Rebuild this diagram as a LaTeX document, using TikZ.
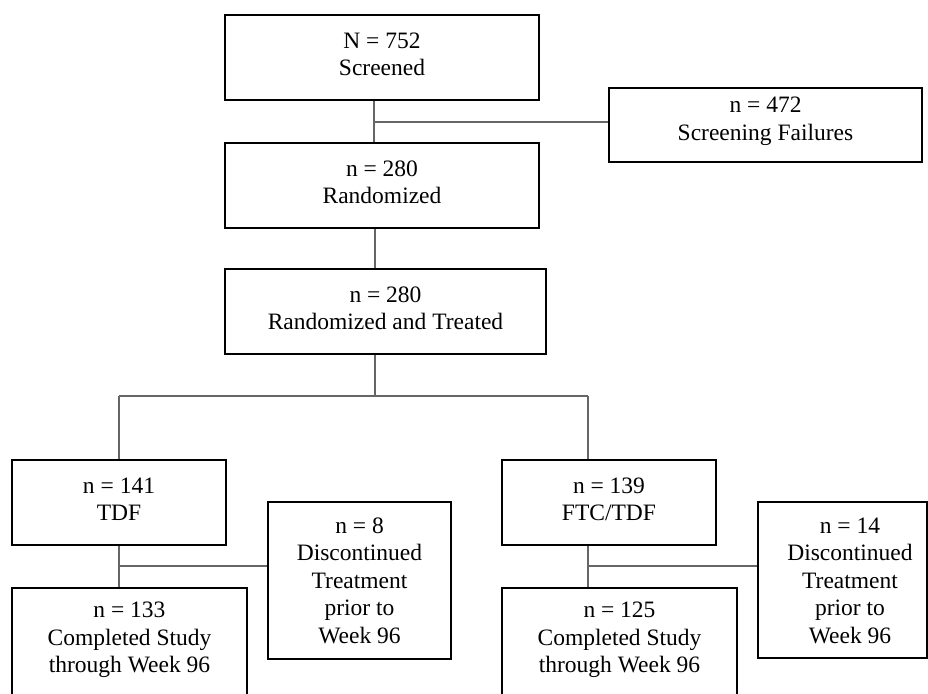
\documentclass[tikz,border=0pt]{standalone}
\usepackage{fontspec}
\setmainfont{Liberation Serif}
\begin{document}
\begin{tikzpicture}[x=1pt,y=-1pt,
  box/.style={draw=black,line width=2pt,rectangle,inner sep=0pt,align=center,
    font=\fontsize{23.5}{27.5}\selectfont},
  raise/.style={text depth=7pt},
  txt/.style={inner sep=0pt,align=center,font=\fontsize{23.5}{27.5}\selectfont},
  conn/.style={draw=black!60,line width=1.6pt}]
\useasboundingbox (0,0) rectangle (928,693);
\clip (0,0) rectangle (928,693);
% boxes
\node[box,raise,minimum width=314pt,minimum height=85pt] (scr) at (382,57.5) {N = 752\\Screened};
\node[box,minimum width=313pt,minimum height=74pt] (sf) at (765.5,125) {};
\node[txt] (sft) at (765.5,121.5) {n = 472\\Screening Failures};
\node[box,raise,minimum width=314pt,minimum height=85pt] (rand) at (382,185.5) {n = 280\\Randomized};
\node[box,raise,minimum width=321pt,minimum height=85pt] (rt) at (385.5,311.5) {n = 280\\Randomized and Treated};
\node[box,raise,minimum width=214pt,minimum height=85pt] (tdf) at (119,502.5) {n = 141\\TDF};
\node[box,raise,minimum width=214pt,minimum height=85pt] (ftc) at (609,502.5) {n = 139\\FTC/TDF};
\node[box,minimum width=183pt,minimum height=157pt] (dis1) at (359.5,580.5) {n = 8\\Discontinued\\Treatment\\prior to\\Week 96};
\node[box,minimum width=169pt,minimum height=156pt] (dis2) at (842.5,580) {};
\node[txt] (dis2t) at (850,580.5) {n = 14\\Discontinued\\Treatment\\prior to\\Week 96};
\node[box,minimum width=235pt,minimum height=140pt,anchor=north] (comp1) at (129.5,587) {};
\node[txt] (comp1t) at (129.5,640) {n = 133\\Completed Study\\through Week 96};
\node[box,minimum width=235pt,minimum height=140pt,anchor=north] (comp2) at (619.5,587) {};
\node[txt] (comp2t) at (619.5,640) {n = 125\\Completed Study\\through Week 96};
% junction coordinates
\coordinate (j1) at (374,122);
\coordinate (j2) at (375,396);
\coordinate (jl) at (119,396);
\coordinate (jr) at (588,396);
\coordinate (j3) at (119,566);
\coordinate (j4) at (588,566);
% connectors
\draw[conn] (scr.south -| j1) -- (rand.north -| j1);
\draw[conn] (j1) -- (j1 -| sf.west);
\draw[conn] (rand.south -| j2) -- (rt.north -| j2);
\draw[conn] (rt.south -| j2) -- (j2);
\draw[conn] (jl) -- (jr);
\draw[conn] (jl) -- (tdf.north -| jl);
\draw[conn] (jr) -- (ftc.north -| jr);
\draw[conn] (tdf.south -| j3) -- (comp1.north -| j3);
\draw[conn] (j3) -- (j3 -| dis1.west);
\draw[conn] (ftc.south -| j4) -- (comp2.north -| j4);
\draw[conn] (j4) -- (j4 -| dis2.west);
\end{tikzpicture}
\end{document}
